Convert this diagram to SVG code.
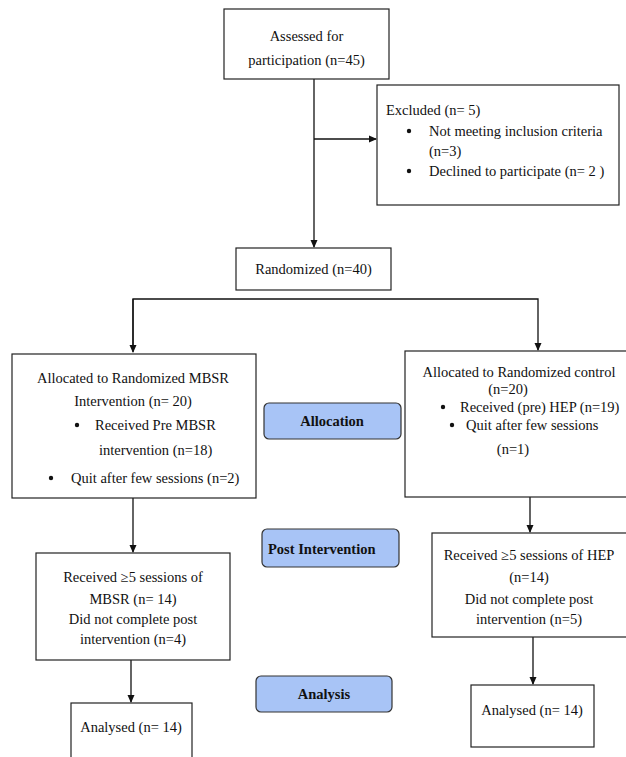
<svg xmlns="http://www.w3.org/2000/svg" width="626" height="757" viewBox="0 0 626 757">
<defs>
<style>
.box{fill:#fff;stroke:#222;stroke-width:1.2}
.lab{fill:#a8c4f6;stroke:#333;stroke-width:1.2}
.t{font-family:"Liberation Serif","Times New Roman",serif;font-size:14.5px;fill:#111}
.c{text-anchor:middle}
.b{font-weight:bold}
.ln{fill:none;stroke:#111;stroke-width:1.3}
</style>
<marker id="ah" markerWidth="8" markerHeight="8" refX="7" refY="4" orient="auto" markerUnits="userSpaceOnUse">
<path d="M0,0.5 L8,4 L0,7.5 Z" fill="#111"/>
</marker>
</defs>
<rect width="626" height="757" fill="#fff"/>

<g id="connectors">
<line class="ln" x1="314" y1="79" x2="314" y2="247" marker-end="url(#ah)"/>
<line class="ln" x1="314" y1="139" x2="376" y2="139" marker-end="url(#ah)"/>
<polyline class="ln" points="133,348 133,299 538,299 538,350" marker-end="url(#ah)"/>
<line class="ln" x1="133" y1="299" x2="133" y2="352" marker-end="url(#ah)"/>
<line class="ln" x1="133" y1="498" x2="133" y2="552" marker-end="url(#ah)"/>
<line class="ln" x1="530" y1="497" x2="530" y2="532" marker-end="url(#ah)"/>
<line class="ln" x1="131" y1="660" x2="131" y2="702" marker-end="url(#ah)"/>
<line class="ln" x1="533" y1="637" x2="533" y2="684" marker-end="url(#ah)"/>
</g>

<g id="assessed">
<rect class="box" x="224" y="9" width="165" height="70"/>
<text class="t c" x="306.5" y="41">Assessed for</text>
<text class="t c" x="306.5" y="65">participation (n=45)</text>
</g>

<g id="excluded">
<rect class="box" x="377" y="85" width="242" height="120"/>
<text class="t" x="386" y="115">Excluded (n= 5)</text>
<circle cx="409" cy="131" r="2.2" fill="#111"/>
<text class="t" x="429" y="136">Not meeting inclusion criteria</text>
<text class="t" x="429" y="156">(n=3)</text>
<circle cx="409" cy="171" r="2.2" fill="#111"/>
<text class="t" x="429" y="176">Declined to participate (n= 2 )</text>
</g>

<g id="randomized">
<rect class="box" x="236" y="248" width="155" height="42"/>
<text class="t c" x="313.5" y="274">Randomized (n=40)</text>
</g>

<g id="alloc-mbsr">
<rect class="box" x="12" y="354" width="244" height="144"/>
<text class="t c" x="133" y="383">Allocated to Randomized MBSR</text>
<text class="t c" x="133" y="406">Intervention (n= 20)</text>
<circle cx="77" cy="425" r="2.2" fill="#111"/>
<text class="t" x="95" y="430">Received Pre MBSR</text>
<text class="t" x="99" y="455">intervention (n=18)</text>
<circle cx="51" cy="478" r="2.2" fill="#111"/>
<text class="t" x="71" y="483">Quit after few sessions (n=2)</text>
</g>

<g id="alloc-control">
<rect class="box" x="405" y="351" width="230" height="146"/>
<text class="t c" x="519" y="377">Allocated to Randomized control</text>
<text class="t c" x="508" y="394">(n=20)</text>
<circle cx="443" cy="407" r="2.2" fill="#111"/>
<text class="t" x="460" y="412">Received (pre) HEP (n=19)</text>
<circle cx="452" cy="425" r="2.2" fill="#111"/>
<text class="t" x="466" y="430">Quit after few sessions</text>
<text class="t c" x="513" y="454">(n=1)</text>
</g>

<g id="label-allocation">
<rect class="lab" x="264" y="403" width="137" height="36" rx="5"/>
<text class="t c b" x="332" y="426">Allocation</text>
</g>

<g id="label-post">
<rect class="lab" x="262" y="529" width="137" height="38" rx="5"/>
<text class="t b" x="268" y="554">Post Intervention</text>
</g>

<g id="label-analysis">
<rect class="lab" x="256" y="676" width="136" height="36" rx="5"/>
<text class="t c b" x="324" y="699">Analysis</text>
</g>

<g id="post-mbsr">
<rect class="box" x="36" y="553" width="194" height="107"/>
<text class="t c" x="133" y="582">Received ≥5 sessions of</text>
<text class="t c" x="133" y="604">MBSR (n= 14)</text>
<text class="t c" x="133" y="624">Did not complete post</text>
<text class="t c" x="133" y="644">intervention (n=4)</text>
</g>

<g id="post-hep">
<rect class="box" x="432" y="533" width="200" height="104"/>
<text class="t c" x="529" y="560">Received ≥5 sessions of HEP</text>
<text class="t c" x="529" y="582">(n=14)</text>
<text class="t c" x="529" y="604">Did not complete post</text>
<text class="t c" x="529" y="624">intervention (n=5)</text>
</g>

<g id="analysed-mbsr">
<rect class="box" x="71" y="703" width="121" height="70"/>
<text class="t c" x="131" y="732">Analysed (n= 14)</text>
</g>

<g id="analysed-hep">
<rect class="box" x="471" y="685" width="123" height="62"/>
<text class="t c" x="532" y="715">Analysed (n= 14)</text>
</g>
</svg>
